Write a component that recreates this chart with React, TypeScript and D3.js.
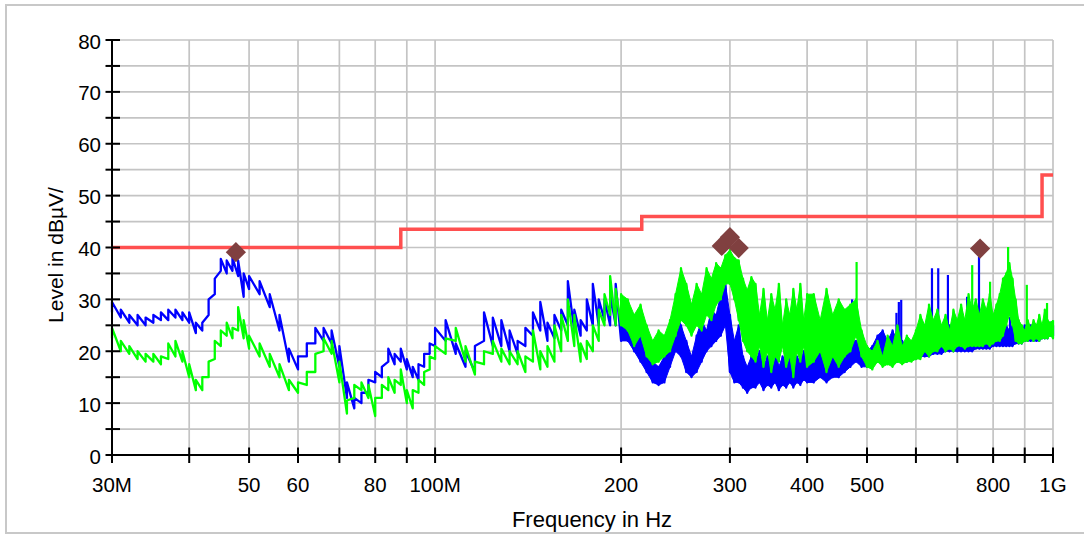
import React from 'react';
import * as d3 from 'd3';

// Frequencies in MHz (sample positions)
const freqs = [
  30, 31, 32, 33, 34, 35, 36, 37, 38, 39, 40, 41, 42, 43, 44, 45, 46, 47, 48, 49, 50,
  52, 54, 56, 58, 60, 62, 64, 66, 68, 70, 72, 74, 76, 78, 80, 82, 84, 86, 88, 90, 92, 94, 96, 98, 100,
  104, 108, 112, 116, 120, 124, 128, 132, 136, 140, 144, 148, 152, 156, 160, 164, 168, 172, 176, 180, 184, 188, 192, 196, 200,
  205, 210, 215, 220, 225, 230, 235, 240, 245, 250, 255, 260, 265, 270, 275, 280, 285, 290, 295, 300,
  305, 310, 315, 320, 325, 330, 335, 340, 345, 350, 355, 360, 365, 370, 375, 380, 385, 390, 395, 400,
  410, 420, 430, 440, 450, 460, 470, 480, 490, 500, 510, 520, 530, 540, 550, 560, 570, 580, 590, 600,
  610, 620, 630, 640, 650, 660, 670, 680, 690, 700, 710, 720, 730, 740, 750, 760, 770, 780, 790, 800,
  810, 820, 830, 840, 850, 860, 870, 880, 890, 900, 910, 920, 930, 940, 950, 960, 970, 980, 990, 1000,
];

// Blue trace: lower / upper envelope of the noisy trace (dBµV)
const blueLo = [
  27.5, 26.5, 25.5, 25, 25, 25.5, 26, 26, 26.5, 26, 25.5, 23.5, 24, 27, 31, 35.5, 35, 35.5, 34.5, 30.5, 32,
  31, 28.5, 24, 18, 16.5, 19, 21.5, 22, 21.5, 17, 11, 9, 10, 12, 14, 15, 18, 17.5, 18, 16.5, 15, 14.5, 17, 19.5, 21,
  22, 19.5, 17, 16, 22, 21, 21, 20, 19.5, 21, 23, 24, 22, 22.5, 24, 25, 24, 23, 24, 25, 25, 26, 25, 25, 22,
  22, 20, 18, 16, 14, 13.5, 14, 17, 20, 19, 16, 15, 16, 18, 20, 21, 22, 23, 25, 16,
  14, 14, 13, 12, 13, 13, 14, 12.5, 13.5, 13, 14, 12.5, 13.5, 13, 14, 13, 14, 13.5, 14.5, 14,
  14, 15, 14, 15, 15, 16, 17, 18, 17, 17, 17.5, 18, 18, 18, 18, 18, 18, 18, 18.5, 18.5,
  19, 19, 19, 19.5, 19.5, 19.5, 20, 20, 20, 20, 20, 20, 20, 20, 20.5, 20.5, 20.5, 20.5, 20.5, 21,
  21, 21, 21, 21, 21, 21, 21.5, 21.5, 21.5, 22, 22, 22, 22, 22, 22, 22.5, 22.5, 22.5, 23, 23,
];
const blueHi = [
  29.5, 28, 27, 27, 26.5, 27, 27.5, 28, 28, 27.5, 27.5, 25.5, 25.5, 30, 34, 37.8, 37.5, 38, 37.5, 35, 34.5,
  33.5, 31, 27, 20.5, 19, 21.5, 24.5, 24.5, 24, 21, 14, 11, 12, 14.5, 16, 17, 20.5, 19.5, 20.5, 18.5, 17, 17.5, 19.5, 21.5, 24.5,
  26, 21.5, 20, 21, 27.5, 26.5, 26, 24, 22, 24.5, 27.5, 29.5, 25.5, 27, 28, 33.5, 28, 26, 30, 33, 30, 30, 31, 33, 30,
  29, 25, 24, 20, 18, 17, 19, 21, 28, 25, 22, 19, 23, 26, 24, 28, 27, 31, 33, 27,
  22, 25, 19, 17, 19, 18, 20, 17, 19, 18, 21, 17, 19, 18, 20, 17, 19, 18, 20, 19,
  19, 20, 18, 20, 19, 21, 22, 22, 21, 20, 21, 23, 24, 22, 24, 22, 22, 21, 21, 21,
  22, 23, 24, 23, 23, 23, 24, 25, 25, 25, 25, 26, 25, 25, 26, 26, 25, 24, 25, 25,
  24, 25, 24, 25, 24, 25, 24, 24, 24, 25, 25, 25, 25, 25, 25, 25, 25.5, 25, 25.5, 25,
];

// Green trace: lower / upper envelope (dBµV)
const greenLo = [
  22.5, 20, 19.5, 18.5, 18, 18, 17.5, 18.5, 19, 18, 15, 12.5, 12.5, 15, 18.5, 21, 23, 22.5, 24, 22.5, 20.5,
  19, 17, 15, 12.5, 12, 13.5, 16, 20, 19.5, 14, 8, 11, 12.5, 11, 7.5, 11, 12.5, 12, 13.5, 10, 9, 12, 13.5, 16.5, 18.5,
  19.5, 22, 18, 15.5, 17.5, 19.5, 18, 17.5, 17.5, 16, 18, 16.5, 17, 18, 20, 22, 21, 18, 18.5, 20, 22, 25, 27, 25, 25,
  24, 21, 23, 19, 17.5, 18, 19, 20, 23, 26, 25, 23, 25, 24, 27, 26, 29, 30, 33, 33,
  30, 26, 22, 20, 19, 18, 21, 17, 20, 16, 19, 18, 21, 17, 19, 15, 20, 18, 21, 17,
  18, 20, 16, 19, 17, 19, 20, 23, 19, 17, 16.5, 18, 17, 17.5, 17, 18, 17.5, 18, 18, 18.5,
  18.5, 20, 19, 20, 20, 21, 20, 20.5, 20, 21, 21, 20.5, 21, 21, 21, 21, 21, 21.5, 21, 21.5,
  22, 22, 23, 25, 27, 25, 22, 21.5, 21.5, 22, 22, 22.5, 22, 22.5, 22, 22.5, 22.5, 22.5, 23, 22.5,
];
const greenHi = [
  24.5, 22, 21, 20, 19.5, 19.5, 19, 21.5, 22, 20, 17.5, 14.5, 15, 18, 22, 24, 25.5, 24.5, 28.5, 26, 23,
  21.5, 19.5, 17.5, 14.5, 14, 16, 19.5, 22.5, 22, 18, 10.5, 13.5, 14, 13.5, 11, 13.5, 15, 14.5, 16.5, 12.5, 12.5, 14.5, 16, 19, 21,
  22.5, 24.5, 21, 18, 20, 22, 20.5, 20, 20, 19, 24, 20, 21, 25, 27, 30, 27, 21.5, 22, 25, 28, 31, 34.5, 32, 31,
  30, 27, 29, 25, 22, 24, 23, 26, 31, 36, 33, 29, 33, 31, 36, 34, 37, 36, 38.5, 39.5,
  38, 37.5, 34, 31.8, 34.3, 33, 27, 32, 26, 31, 28, 33, 25, 30, 27, 32, 28, 33, 26, 31,
  31, 26, 32, 27, 30, 28, 29, 30, 24, 21, 20, 22, 19, 23, 21, 25, 21, 23, 22, 24,
  27, 25, 29, 26, 28, 25, 27, 24, 28, 26, 29, 26, 31, 28, 30, 27, 30, 28, 31, 27,
  29, 31, 34, 35, 37, 34, 30, 26, 25, 24, 26, 24.5, 26, 25, 27, 25, 28, 26, 25.5, 26,
];

// Narrow single spikes (frequency, top, base)
const blueSpikeFreq = [473, 558, 563, 568, 637, 652, 676, 726, 759, 852];
const blueSpikeTop = [30, 27.4, 29.5, 29.9, 36, 36, 34.7, 30.5, 38.2, 26.6];
const blueSpikeBase = [20, 19, 19, 19, 20, 20, 21, 21, 21, 22];
const greenSpikeFreq = [481, 740, 791, 846, 907, 978];
const greenSpikeTop = [37.2, 36.6, 33.4, 40.1, 32.8, 29.3];
const greenSpikeBase = [25, 23, 24, 32, 24, 24];

// Limit line (step)
const limitFreq = [30, 88, 88, 216, 216, 960, 960, 1000];
const limitLevel = [40, 40, 43.5, 43.5, 46, 46, 54, 54];

// Final measurement markers
const markerFreq = [47.6, 291, 300, 310, 762];
const markerLevel = [39.1, 40.3, 42.0, 39.9, 39.8];

// Axes
const gridFreqs = [40, 50, 60, 70, 80, 90, 100, 200, 300, 400, 500, 600, 700, 800, 900, 1000];
const xTickFreqs = [30, 40, 50, 60, 70, 80, 90, 100, 200, 300, 400, 500, 600, 700, 800, 900, 1000];
const xLabelFreqs = [30, 50, 60, 80, 100, 200, 300, 400, 500, 800, 1000];
const xLabelTexts = ['30M', '50', '60', '80', '100M', '200', '300', '400', '500', '800', '1G'];
const yGridLevels = [5, 10, 15, 20, 25, 30, 35, 40, 45, 50, 55, 60, 65, 70, 75, 80];
const yLabelLevels = [0, 10, 20, 30, 40, 50, 60, 70, 80];

const FONT = "'Liberation Sans', Arial, Helvetica, sans-serif";
const FILL_FROM = 200; // dense band region (MHz)

type P = [number, number];

export default function App() {
  const x = d3.scaleLog().domain([30, 1000]).range([112, 1053]);
  const y = d3.scaleLinear().domain([0, 80]).range([455, 40]);
  const line = d3.line<P>().x((d) => x(d[0])).y((d) => y(d[1]));
  const bandIdx = freqs.map((f, i) => i).filter((i) => freqs[i] >= FILL_FROM);

  const band = (lo: number[], hi: number[]) =>
    d3
      .area<number>()
      .x((i) => x(freqs[i]))
      .y0((i) => y(lo[i]))
      .y1((i) => y(hi[i]))(bandIdx) || '';

  const zig = (lo: number[], hi: number[]) =>
    freqs.flatMap((f, i) => [[f, lo[i]] as P, [f, hi[i]] as P]);

  const trace = (lo: number[], hi: number[], sf: number[], st: number[], sb: number[], color: string) => (
    <g>
      <path d={band(lo, hi)} fill={color} stroke={color} strokeWidth={1} />
      <path d={line(zig(lo, hi)) || ''} fill="none" stroke={color} strokeWidth={2.3} strokeLinejoin="round" />
      {sf.map((f, i) => (
        <line key={i} x1={x(f)} x2={x(f)} y1={y(sb[i])} y2={y(st[i])} stroke={color} strokeWidth={2.2} />
      ))}
    </g>
  );

  const limitPts = limitFreq.map((f, i) => [f, limitLevel[i]] as P);
  const diamond = d3.symbol().type(d3.symbolSquare).size(205)();

  const [x0, x1] = x.range();
  const [yb, yt] = y.range();

  return (
    <svg
      width={1084}
      height={535}
      style={{ position: 'absolute', left: 0, top: 0, background: '#fff' }}
      fontFamily={FONT}
    >
      <rect x={6} y={5} width={1090} height={528} fill="#fff" stroke="#c8c8c8" strokeWidth={2} />
      <g stroke="#c4c4c4" strokeWidth={1.7}>
        {gridFreqs.map((f) => (
          <line key={'gx' + f} x1={x(f)} x2={x(f)} y1={yt} y2={yb} />
        ))}
        {yGridLevels.map((v) => (
          <line key={'gy' + v} x1={x0} x2={x1} y1={y(v)} y2={y(v)} />
        ))}
      </g>
      {trace(blueLo, blueHi, blueSpikeFreq, blueSpikeTop, blueSpikeBase, '#0000ff')}
      {trace(greenLo, greenHi, greenSpikeFreq, greenSpikeTop, greenSpikeBase, '#00ff00')}
      <path d={line(limitPts) || ''} fill="none" stroke="#ff4f4f" strokeWidth={3.5} />
      {markerFreq.map((f, i) => (
        <path
          key={'m' + i}
          d={diamond || ''}
          transform={`translate(${x(f)},${y(markerLevel[i])}) rotate(45)`}
          fill="#804040"
        />
      ))}
      <g stroke="#000" strokeWidth={2}>
        <line x1={x0} x2={x0} y1={yt - 1} y2={yb + 8} />
        <line x1={x0} x2={x1} y1={yb} y2={yb} />
        {xTickFreqs.map((f) => (
          <line key={'tx' + f} x1={x(f)} x2={x(f)} y1={yb - 7.5} y2={yb + 8} />
        ))}
        {[0, ...yGridLevels].map((v) => (
          <line key={'ty' + v} x1={x0 - 6.5} x2={x0 + 8} y1={y(v)} y2={y(v)} />
        ))}
      </g>
      <g fontSize={20.5} fill="#000">
        {xLabelFreqs.map((f, i) => (
          <text key={'lx' + f} x={x(f)} y={492} textAnchor="middle">
            {xLabelTexts[i]}
          </text>
        ))}
        {yLabelLevels.map((v) => (
          <text key={'ly' + v} x={101} y={y(v) + 8.5} textAnchor="end">
            {v}
          </text>
        ))}
      </g>
      <text x={592} y={527} textAnchor="middle" fontSize={22} fill="#000">
        Frequency in Hz
      </text>
      <text transform="translate(63,255) rotate(-90)" textAnchor="middle" fontSize={21} fill="#000">
        Level in dBµV/
      </text>
    </svg>
  );
}
